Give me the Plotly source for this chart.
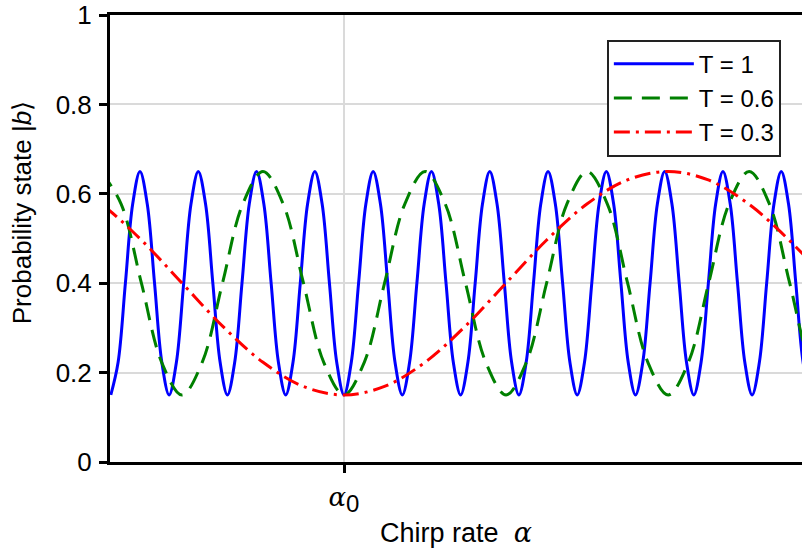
import plotly.graph_objects as go

# x in units of the T=1 oscillation period, alpha0 = 0
blue_x = [-4.0, -3.875, -3.75, -3.625, -3.5, -3.375, -3.25, -3.125,
          -3.0, -2.875, -2.75, -2.625, -2.5, -2.375, -2.25, -2.125,
          -2.0, -1.875, -1.75, -1.625, -1.5, -1.375, -1.25, -1.125,
          -1.0, -0.875, -0.75, -0.625, -0.5, -0.375, -0.25, -0.125,
          0.0, 0.125, 0.25, 0.375, 0.5, 0.625, 0.75, 0.875,
          1.0, 1.125, 1.25, 1.375, 1.5, 1.625, 1.75, 1.875,
          2.0, 2.125, 2.25, 2.375, 2.5, 2.625, 2.75, 2.875,
          3.0, 3.125, 3.25, 3.375, 3.5, 3.625, 3.75, 3.875,
          4.0, 4.125, 4.25, 4.375, 4.5, 4.625, 4.75, 4.875,
          5.0, 5.125, 5.25, 5.375, 5.5, 5.625, 5.75, 5.875,
          6.0, 6.125, 6.25, 6.375, 6.5, 6.625, 6.75, 6.875,
          7.0, 7.125, 7.25, 7.375, 7.5, 7.625, 7.75, 7.875, 8.0]
blue_y = [0.15, 0.223, 0.40, 0.577, 0.65, 0.577, 0.40, 0.223,
          0.15, 0.223, 0.40, 0.577, 0.65, 0.577, 0.40, 0.223,
          0.15, 0.223, 0.40, 0.577, 0.65, 0.577, 0.40, 0.223,
          0.15, 0.223, 0.40, 0.577, 0.65, 0.577, 0.40, 0.223,
          0.15, 0.223, 0.40, 0.577, 0.65, 0.577, 0.40, 0.223,
          0.15, 0.223, 0.40, 0.577, 0.65, 0.577, 0.40, 0.223,
          0.15, 0.223, 0.40, 0.577, 0.65, 0.577, 0.40, 0.223,
          0.15, 0.223, 0.40, 0.577, 0.65, 0.577, 0.40, 0.223,
          0.15, 0.223, 0.40, 0.577, 0.65, 0.577, 0.40, 0.223,
          0.15, 0.223, 0.40, 0.577, 0.65, 0.577, 0.40, 0.223,
          0.15, 0.223, 0.40, 0.577, 0.65, 0.577, 0.40, 0.223,
          0.15, 0.223, 0.40, 0.577, 0.65, 0.577, 0.40, 0.223, 0.15]

green_x = [-4.17, -3.8225, -3.475, -3.1275, -2.78, -2.4325, -2.085, -1.7375,
           -1.39, -1.0425, -0.695, -0.3475, 0.0, 0.3475, 0.695, 1.0425,
           1.39, 1.7375, 2.085, 2.4325, 2.78, 3.1275, 3.475, 3.8225,
           4.17, 4.5175, 4.865, 5.2125, 5.56, 5.9075, 6.255, 6.6025,
           6.95, 7.2975, 7.645, 7.9925, 8.34]
green_y = [0.65, 0.577, 0.40, 0.223, 0.15, 0.223, 0.40, 0.577,
           0.65, 0.577, 0.40, 0.223, 0.15, 0.223, 0.40, 0.577,
           0.65, 0.577, 0.40, 0.223, 0.15, 0.223, 0.40, 0.577,
           0.65, 0.577, 0.40, 0.223, 0.15, 0.223, 0.40, 0.577,
           0.65, 0.577, 0.40, 0.223, 0.15]

red_x = [-5.555, -4.861, -4.166, -3.472, -2.777, -2.083, -1.389, -0.694,
         0.0, 0.694, 1.389, 2.083, 2.777, 3.472, 4.166, 4.861,
         5.555, 6.249, 6.944, 7.638, 8.333]
red_y = [0.65, 0.631, 0.577, 0.496, 0.40, 0.304, 0.223, 0.169,
         0.15, 0.169, 0.223, 0.304, 0.40, 0.496, 0.577, 0.631,
         0.65, 0.631, 0.577, 0.496, 0.40]

series_names = ["T = 1", "T = 0.6", "T = 0.3"]
y_ticks = [0, 0.2, 0.4, 0.6, 0.8, 1]
y_ticktext = ["0", "0.2", "0.4", "0.6", "0.8", "1"]
x_ticks = [0]

ALPHA = "<span style=\"font-family:'DejaVu Serif'\"><i>α</i></span>"
FONT = "Liberation Sans, Arial, sans-serif"

fig = go.Figure()
fig.add_trace(go.Scatter(x=blue_x, y=blue_y, name=series_names[0], mode="lines",
                         line=dict(color="#0000ff", width=3, shape="spline", smoothing=1)))
fig.add_trace(go.Scatter(x=green_x, y=green_y, name=series_names[1], mode="lines",
                         line=dict(color="#008000", width=3, shape="spline", smoothing=1,
                                   dash="18px,10px")))
fig.add_trace(go.Scatter(x=red_x, y=red_y, name=series_names[2], mode="lines",
                         line=dict(color="#ff0000", width=3, shape="spline", smoothing=1,
                                   dash="16px,6px,3px,6px")))

fig.update_layout(
    width=802, height=558,
    margin=dict(l=110, r=0, t=11, b=96),
    paper_bgcolor="white", plot_bgcolor="white",
    font=dict(family=FONT, size=26, color="black"),
    showlegend=True,
    legend=dict(x=0.718, y=0.945, xanchor="left", yanchor="top",
                bgcolor="white", bordercolor="#222", borderwidth=2,
                font=dict(size=24), itemwidth=80, tracegroupgap=0),
    xaxis=dict(range=[-4.014, 7.856], tickvals=x_ticks,
               ticktext=[ALPHA + "<sub><span style=\"font-size:24px\">0</span></sub>"],
               showline=True, linecolor="black", linewidth=3, mirror=True,
               ticks="outside", ticklen=8, tickwidth=2.5, tickcolor="black",
               ticklabelstandoff=2,
               showgrid=True, gridcolor="#dadada", gridwidth=2, zeroline=False,
               title=dict(text="Chirp rate  " + ALPHA, font=dict(size=27), standoff=8)),
    yaxis=dict(range=[0, 1], tickvals=y_ticks, ticktext=y_ticktext,
               showline=True, linecolor="black", linewidth=3, mirror=False,
               ticks="outside", ticklen=8, tickwidth=2.5, tickcolor="black",
               ticklabelstandoff=2, ticklabeloverflow="allow",
               showgrid=True, gridcolor="#dadada", gridwidth=2, zeroline=False),
    annotations=[dict(text="Probability state |<i>b</i>⟩", textangle=-90,
                      xref="paper", yref="paper", x=(22 - 110) / 692, y=(462 - 211) / 451,
                      xanchor="center", yanchor="middle", showarrow=False,
                      font=dict(size=26))],
)

fig.write_html("out.html")
